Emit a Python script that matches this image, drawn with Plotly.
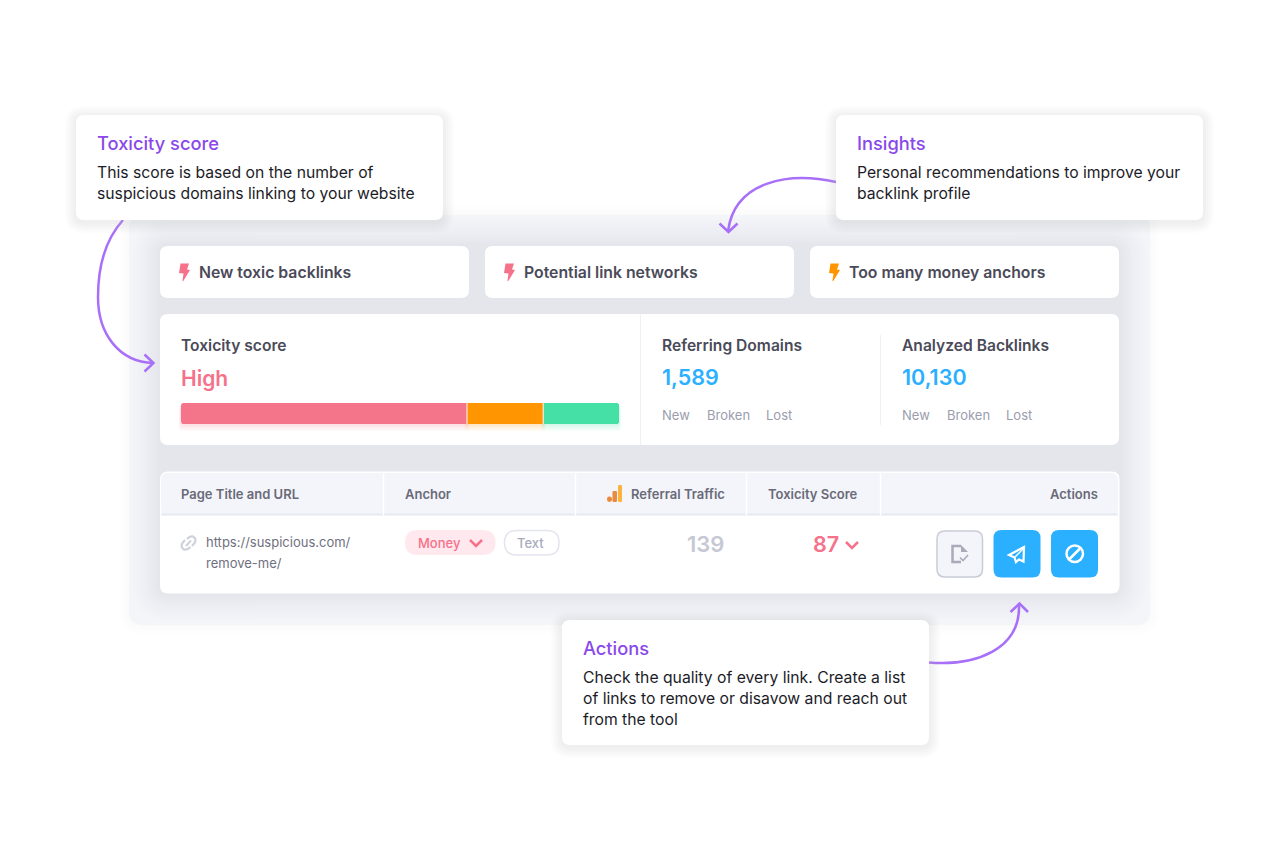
# Backlink audit card, rebuilt with plotly shapes and text on a pixel-sized axis
import plotly.graph_objects as go

# values and labels
alert_labels = ['New toxic backlinks', 'Potential link networks', 'Too many money anchors']
score_bands = ['High', 'Medium', 'Low']
score_shares = [65.3, 17.4, 17.3]
metric_names = ['Referring Domains', 'Analyzed Backlinks']
metric_values = ['1,589', '10,130']
metric_links = ['New', 'Broken', 'Lost']
table_headers = ['Page Title and URL', 'Anchor', 'Referral Traffic', 'Toxicity Score', 'Actions']
url_lines = ['https://suspicious.com/', 'remove-me/']
anchor_tags = ['Money', 'Text']
traffic_value = '139'
toxicity_value = '87'
callout_titles = ['Toxicity score', 'Insights', 'Actions']
callout_lines = [
    ['This score is based on the number of', 'suspicious domains linking to your website'],
    ['Personal recommendations to improve your', 'backlink profile'],
    ['Check the quality of every link. Create a list', 'of links to remove or disavow and reach out', 'from the tool'],
]

PURPLE = '#8a48ea'
ARROW = '#a86ff8'
PINK = '#f5728a'
BAR_PINK = '#f4758a'
ORANGE = '#ff9500'
GREEN = '#44e0a5'
BLUE = '#2bb0ff'
DARK = '#4a4a59'
FONT = 'Inter'

# the page body has an 8px margin, so the plot area starts at pixel 8
LEFT, TOP, W, H = 8, 8, 1264, 837

shapes = []
annotations = []


def rr(x0, y0, x1, y1, r):
    return (f'M{x0+r},{y0} L{x1-r},{y0} Q{x1},{y0} {x1},{y0+r} L{x1},{y1-r} Q{x1},{y1} {x1-r},{y1} '
            f'L{x0+r},{y1} Q{x0},{y1} {x0},{y1-r} L{x0},{y0+r} Q{x0},{y0} {x0+r},{y0} Z')


def add_path(path, fill=None, line=None, width=0, opacity=1, layer='below'):
    shapes.append(dict(type='path', path=path, xref='x', yref='y', layer=layer, opacity=opacity,
                       fillcolor=fill if fill else 'rgba(0,0,0,0)',
                       line=dict(color=line if line else 'rgba(0,0,0,0)', width=width)))


def box(x0, y0, x1, y1, r, fill=None, line=None, width=0):
    add_path(rr(x0, y0, x1, y1, r), fill, line, width)


def mix(c0, c1, t):
    a = [int(c0[i:i+2], 16) for i in (1, 3, 5)]
    b = [int(c1[i:i+2], 16) for i in (1, 3, 5)]
    return 'rgb(' + ','.join(str(round(p + (q - p) * t)) for p, q in zip(a, b)) + ')'


def glow(x0, y0, x1, y1, r, spread, c_out, c_in, steps=12):
    # nested opaque rounded rects, outer colour fading to inner colour
    for i in range(steps):
        t = (i + 1) / steps
        e = spread * (1 - i / steps)
        box(x0 - e, y0 - e, x1 + e, y1 + e, r + e, mix(c_out, c_in, t ** 1.3))


def shadow(x0, y0, x1, y1, r, spread, dy, color, alpha, steps=8):
    for i in range(steps):
        e = spread * (1 - i / steps)
        add_path(rr(x0 - e, y0 - e + dy, x1 + e, y1 + e + dy, r + e), color, opacity=alpha)


def text(x, y, s, size, color, weight=400, anchor='left'):
    # annotations sit 1px inside their anchor
    x = x - 1 if anchor == 'left' else x + 1
    annotations.append(dict(x=x, y=y, xref='x', yref='y', text=s, showarrow=False, xanchor=anchor,
                            yanchor='middle', borderpad=0,
                            font=dict(family=FONT, size=size, color=color, weight=weight)))


def bolt(x, y, color):
    add_path(f'M{x+1.5},{y} L{x+10},{y} L{x+8},{y+6} L{x+11},{y+6.5} L{x+4},{y+18} L{x+3.5},{y+17} '
             f'L{x+4.5},{y+10} L{x},{y+9.5} Z', color)


def chevron(x, y, w, h, color, width):
    add_path(f'M{x},{y} L{x+w},{y+h} L{x+2*w},{y}', line=color, width=width)


# background panel with the soft shading the cards throw on it
glow(129, 215, 1150, 625, 14, 10, '#ffffff', '#fbfbfc', steps=4)
box(129, 215, 1150, 625, 14, '#f4f5f9')
glow(160, 246, 1119, 593, 10, 30, '#f4f5f9', '#e5e6ec', steps=14)

# insight cards
alert_x = [160, 485, 810]
alert_colors = [PINK, PINK, ORANGE]
for x, label, color in zip(alert_x, alert_labels, alert_colors):
    box(x, 246, x + 309, 298, 8, '#ffffff')
    bolt(x + 19, 263.5, color)
    text(x + 39, 272, label, 15.8, DARK, 600)

# score card
box(160, 314, 1119, 445, 8, '#ffffff')
add_path('M640.5,314 L640.5,445', line='#f0f1f5', width=1)
add_path('M880.5,335 L880.5,425', line='#f0f1f5', width=1)
text(181, 345, callout_titles[0], 15.6, DARK, 600)
text(181, 378, score_bands[0], 21, PINK, 600)

# glow under the stacked bar
bar_x0, bar_x1 = 181, 619
pos = bar_x0
glow_colors = [BAR_PINK, ORANGE, GREEN]
for share, color in zip(score_shares, glow_colors):
    seg = (bar_x1 - bar_x0) * share / sum(score_shares)
    for e in (7, 5, 3, 1.5):
        add_path(rr(pos - e / 3, 405, pos + seg + e / 3, 424 + e, 4), color, opacity=0.06)
    pos += seg

metric_x = [662, 902]
link_offsets = [0, 44.5, 103.5]
for x, name, value in zip(metric_x, metric_names, metric_values):
    text(x, 345, name, 15.6, DARK, 600)
    text(x, 377, value, 21.5, BLUE, 600)
    for off, link in zip(link_offsets, metric_links):
        text(x + off, 415, link, 13, '#9b9dad', 400)

# table
box(160, 471.5, 1119.5, 593.5, 8, '#ffffff')
box(161, 473, 1118, 516, 7, '#f4f5fa')
shapes.append(dict(type='rect', x0=161, x1=1118, y0=514, y1=530, xref='x', yref='y', layer='below',
                   fillcolor='#ffffff', line=dict(width=0)))
shapes.append(dict(type='rect', x0=161, x1=1118, y0=513.5, y1=515.5, xref='x', yref='y', layer='below',
                   fillcolor='#e8e9f0', line=dict(width=0)))
for x in [383.5, 575.5, 746.5, 880.5]:
    add_path(f'M{x},472 L{x},515', line='#ffffff', width=1.5)
header_color = '#696a78'
text(181, 494, table_headers[0], 13, header_color, 600)
text(405, 494, table_headers[1], 13, header_color, 600)
text(631, 494, table_headers[2], 13, header_color, 600)
text(768, 494, table_headers[3], 13, header_color, 600)
text(1098, 494, table_headers[4], 13, header_color, 600, anchor='right')

# analytics mark next to Referral Traffic
add_path(rr(607, 496.5, 612, 502, 2.4), '#ea8a3c')
add_path(rr(612.5, 491, 617, 502, 1.2), '#ea8a3c')
add_path(rr(618, 485, 622, 502, 1.2), '#fbb23e')

# link icon
add_path('M187,539 Q190,535.5 193,536.5 Q196.5,538.5 195,542.5 L192,546', line='#cfd1dc', width=2.2)
add_path('M190.5,547 Q187,550.5 184,549.5 Q180.5,547.5 182,543.5 L185,540', line='#cfd1dc', width=2.2)
add_path('M186,546 L191,540.5', line='#cfd1dc', width=2)

text(206, 541.5, url_lines[0], 13, '#6f7080', 400)
text(206, 562.5, url_lines[1], 13, '#6f7080', 400)

# anchor pills
box(405, 530, 495.5, 555, 12.5, '#ffe9ee')
text(418, 542.5, anchor_tags[0], 13, PINK, 500)
chevron(470, 540, 6, 6, PINK, 2.5)
box(504.5, 530.5, 559, 555, 12, '#ffffff', '#e4e5ee', 1.5)
text(517, 542.5, anchor_tags[1], 13, '#a9abbc', 500)

text(724, 544, traffic_value, 22, '#c6c8d4', 600, anchor='right')
text(813, 544, toxicity_value, 21.5, PINK, 600)
chevron(846, 542, 6, 6, PINK, 2.5)

# action buttons
box(937, 531, 982.5, 577, 8, '#f4f5fa', '#c9cbd8', 1.5)
box(993.5, 530, 1040.5, 577.5, 8, BLUE)
box(1051, 530, 1098, 577.5, 8, BLUE)
# document with tick
add_path('M961,546 L952.5,546 L952.5,562 L961,562', line='#a9abb8', width=2.5)
add_path('M961,545 L968,552 L961,552 Z', '#a9abb8')
add_path('M960,557.5 L963,560.5 L968,555', line='#a9abb8', width=1.6)
# paper plane
add_path('M1024,547 L1009,555 L1014.5,557.5 L1016,562 L1019,559.5 L1023.5,561.5 Z', line='#ffffff', width=2.2)
add_path('M1014.5,557.5 L1023.5,548.5', line='#ffffff', width=1.5)
# forbid sign
shapes.append(dict(type='circle', x0=1066.5, x1=1083, y0=545.5, y1=562, xref='x', yref='y', layer='below',
                   line=dict(color='#ffffff', width=2.5), fillcolor='rgba(0,0,0,0)'))
add_path('M1069,559.5 L1080.5,548', line='#ffffff', width=2.5)

# curved arrows
add_path('M123,220 C105,240 98,268 98,297 C98,335 120,362 153,363', line=ARROW, width=2.5)
add_path('M144.5,354.5 L153.5,363 L144.5,371.5', line=ARROW, width=2.5)
add_path('M836,182 C790,172 735,180 728,231', line=ARROW, width=2.5)
add_path('M719.5,223.5 L728.5,232 L737.5,223.5', line=ARROW, width=2.5)
add_path('M929,662.5 C975,666 1021,650 1019,604', line=ARROW, width=2.5)
add_path('M1010.5,612 L1019.5,603.5 L1028,612', line=ARROW, width=2.5)

# callouts on top of everything
callout_boxes = [(76, 115, 443, 220), (836, 115, 1203, 220), (562, 620, 929, 745)]
for (x0, y0, x1, y1), title, lines in zip(callout_boxes, callout_titles, callout_lines):
    shadow(x0, y0, x1, y1, 8, 11, 2, '#c4c5cf', 0.03)
    box(x0, y0, x1, y1, 8, '#ffffff')
    text(x0 + 21, y0 + 27.5, title, 18.3, PURPLE, 500)
    for i, line in enumerate(lines):
        text(x0 + 21, y0 + 57 + i * 21, line, 15.72, '#1c1c28', 400)

# stacked toxicity bar on its own small axis
fig = go.Figure()
for band, share, color in zip(score_bands, score_shares, glow_colors):
    fig.add_trace(go.Bar(x=[share], y=['score'], name=band, orientation='h', xaxis='x2', yaxis='y2',
                         marker=dict(color=color, line=dict(width=0)), showlegend=False, hoverinfo='skip'))

# thin white cuts between the bar segments, and the rounded left end
pos = bar_x0
for share in score_shares[:-1]:
    pos += (bar_x1 - bar_x0) * share / sum(score_shares)
    shapes.append(dict(type='line', x0=pos, x1=pos, y0=403, y1=424, xref='x', yref='y', layer='above',
                       line=dict(color='#ffe9d6', width=1.2)))
add_path('M180.5,402.5 L184,402.5 Q181,403 181,406 L180.5,406 Z', '#ffffff', layer='above')
add_path('M180.5,424.5 L184,424.5 Q181,424 181,421 L180.5,421 Z', '#fdeef1', layer='above')

fig.update_layout(
    width=W, height=H, margin=dict(l=0, r=0, t=0, b=0),
    paper_bgcolor='#ffffff', plot_bgcolor='rgba(0,0,0,0)', showlegend=False,
    barmode='stack', bargap=0, barcornerradius=3,
    xaxis=dict(range=[LEFT, LEFT + W], visible=False, fixedrange=True, domain=[0, 1]),
    yaxis=dict(range=[TOP + H, TOP], visible=False, fixedrange=True, domain=[0, 1]),
    xaxis2=dict(range=[0, sum(score_shares)], visible=False, fixedrange=True, anchor='y2',
                domain=[(bar_x0 - LEFT) / W, (bar_x1 - LEFT) / W]),
    yaxis2=dict(visible=False, fixedrange=True, anchor='x2',
                domain=[(TOP + H - 424) / H, (TOP + H - 403) / H]),
    shapes=shapes, annotations=annotations,
)

fig.write_html('out.html', config=dict(displayModeBar=False))
